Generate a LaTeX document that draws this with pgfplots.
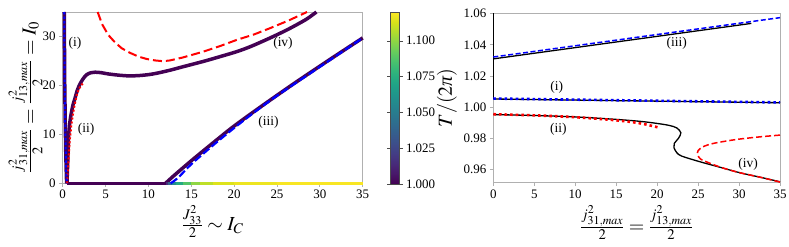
\documentclass[border=0pt]{standalone}
\usepackage{amsmath}
\usepackage{mathptmx}
\usepackage{fontspec}
\setmainfont{Liberation Serif}
\usepackage{pgfplots}
\pgfplotsset{compat=1.18}
\definecolor{vpurple}{RGB}{68,1,84}
\definecolor{framegray}{RGB}{176,176,176}
\pgfplotsset{
  common/.style={
    scale only axis, clip=false,
    axis line style={framegray, line width=0.9bp},
    tick style={framegray, line width=0.8bp},
    tick align=outside, major tick length=3.5bp,
    xtick pos=bottom, ytick pos=left,
    tick label style={font=\fontsize{13}{15}\selectfont},
    /pgf/number format/assume math mode=true,
    label style={font=\fontsize{20}{24}\selectfont},
  }
}
\begin{document}
\begin{tikzpicture}
\path[use as bounding box] (0,0) rectangle (789bp,247bp);
% ---------------- left panel ----------------
\begin{axis}[common,
  at={(62.7bp,63.7bp)}, anchor=south west,
  width=300bp, height=171.3bp,
  xmin=0, xmax=35, ymin=0, ymax=35,
  xtick={0,5,10,15,20,25,30,35}, ytick={0,10,20,30},
  colormap/viridis, point meta min=1, point meta max=1.12,
  colorbar,
  colorbar style={
    scale only axis,
    at={(parent axis.north east)}, anchor=north west, xshift=19bp,
    width=9.3bp, height=172bp,
    axis line style={black!70, line width=0.6bp},
    ytick={1,1.025,1.05,1.075,1.1},
    tick style={black!70}, tick align=outside, major tick length=3bp,
    yticklabel style={font=\fontsize{13}{15}\selectfont,
      /pgf/number format/.cd, fixed, fixed zerofill, precision=3, assume math mode=true},
    scaled y ticks=false,
  },
  xlabel={$\frac{J^2_{33}}{2}\sim I_C$},
  xlabel style={at={(axis description cs:0.5,-0.11)}, anchor=north},
  ylabel={$\frac{j^2_{31,max}}{2}=\frac{j^2_{13,max}}{2}=I_0$},
  ylabel style={at={(axis description cs:-0.056,0.5)}, anchor=south},
]
% red dashed (iv) asymptote
\addplot[red, line width=2bp, dash pattern=on 9bp off 4bp] coordinates {
 (4.08,35) (4.6,32.5) (5.32,30.3) (6.1,28.8) (6.88,27.6) (7.8,26.7) (8.82,25.9)
 (9.8,25.4) (10.8,25.1) (11.7,24.95) (12.5,25.1) (14,25.7) (16.4,26.9) (18.3,28.0)
 (20.3,29.3) (22.3,30.4) (24.2,31.7) (26.4,33.3) (28.5,35)};
% thick curve (i)
\addplot[vpurple, line width=3.5bp] coordinates {
 (0.18,35) (0.2,30) (0.24,20) (0.3,12) (0.36,6) (0.42,2) (0.46,0)};
% thick bottom (purple part)
\addplot[vpurple, line width=3.5bp] coordinates {(0.46,0) (12,0)};
% thick curve (ii)+(iv)
\addplot[vpurple, line width=3.5bp, smooth] coordinates {
 (0.5,0) (0.56,3) (0.62,6) (0.68,9.2) (0.8,12) (0.97,14) (1.2,16) (1.44,17.4)
 (1.7,19) (2.02,20.3) (2.4,21.4) (2.8,22.2) (3.3,22.6) (3.8,22.7) (4.5,22.6)
 (5.3,22.35) (6.5,22.1) (7.7,21.95) (8.8,22.0) (10,22.2) (11,22.5) (12.5,23.1)
 (14,23.8) (16.4,24.9) (18,25.7) (20.3,26.9) (22,28) (24.2,29.7) (26,31.2)
 (27.3,32.4) (28.5,33.6) (29.6,35)};
% thick curve (iii)
\addplot[vpurple, line width=3.5bp, smooth] coordinates {
 (12,0) (13,1.6) (15,4.6) (17.5,8.2) (20,11.7) (23.4,16) (27,20.4) (31,25.1) (35,29.7)};
% coloured bottom segment
\addplot[mesh, point meta=explicit, line width=3.5bp] coordinates {
 (12,0) [1.0] (12.3,0) [1.03] (12.7,0) [1.05] (13.2,0) [1.065] (14,0) [1.08]
 (15,0) [1.095] (16,0) [1.105] (17.5,0) [1.112] (20,0) [1.116] (25,0) [1.118] (35,0) [1.12]};
% red dotted (ii) approximation
\addplot[red, line width=2bp, dash pattern=on 2bp off 2bp] coordinates {
 (0.52,0) (0.58,2) (0.65,3.7) (0.75,6.5) (0.85,9.2) (1.0,11.8) (1.24,14.6)
 (1.45,16.5) (1.63,18) (1.9,19.3) (2.2,20.1) (2.4,20.5)};
% blue dotted (i) approximation
\addplot[blue, line width=2bp, dash pattern=on 2.5bp off 2bp] coordinates {
 (0.18,35) (0.2,30) (0.24,20) (0.3,12) (0.36,6) (0.42,2) (0.46,0)};
% blue dashed (iii) approximation
\addplot[blue, line width=2.2bp, dash pattern=on 8bp off 3bp, smooth] coordinates {
 (12.6,0) (13.5,1.2) (15,3.9) (17.5,7.7) (20,11.3) (22.5,14.7) (25,17.9) (30,23.8) (35,29.7)};
\node[font=\fontsize{13.5}{15}\selectfont] at (axis cs:1.43,28.6) {(i)};
\node[font=\fontsize{13.5}{15}\selectfont] at (axis cs:2.72,11) {(ii)};
\node[font=\fontsize{13.5}{15}\selectfont] at (axis cs:24,12.4) {(iii)};
\node[font=\fontsize{13.5}{15}\selectfont] at (axis cs:25.7,28.6) {(iv)};
\end{axis}
% ---------------- right panel ----------------
\begin{axis}[common,
  at={(493.3bp,64.3bp)}, anchor=south west,
  width=286.7bp, height=169.4bp,
  xmin=0, xmax=35, ymin=0.9514, ymax=1.0603,
  xtick={0,5,10,15,20,25,30,35}, ytick={0.96,0.98,1.00,1.02,1.04,1.06},
  yticklabel style={/pgf/number format/.cd, fixed, fixed zerofill, precision=2},
  scaled y ticks=false,
  xlabel={$\frac{j^2_{31,max}}{2}=\frac{j^2_{13,max}}{2}$},
  xlabel style={at={(axis description cs:0.5,-0.115)}, anchor=north},
  ylabel={$T/(2\text{\itshape π})$},
  ylabel style={at={(axis description cs:-0.115,0.5)}, anchor=south},
]
% black solid curves
\addplot[black, line width=1.3bp] coordinates {(0,1.0052) (0,1.0603)};
\addplot[black, line width=1.3bp] coordinates {(0,1.031) (31.5,1.0538)};
\addplot[black, line width=1.3bp] coordinates {(0,1.0052) (35,1.0028)};
\addplot[black, line width=1.3bp, smooth] coordinates {
 (0,0.9952) (5,0.9946) (10,0.9937) (15,0.9921) (18,0.9908) (20,0.9895) (21.5,0.9882)
 (22.4,0.9866) (22.9,0.9835) (22.6,0.9799) (22.1,0.9767) (22.05,0.9740) (22.4,0.9707)
 (23,0.9685) (25.2,0.9649) (27.7,0.9613) (30.1,0.9578) (32.6,0.9549) (35,0.9520)};
% blue dashed (iii)
\addplot[blue, line width=1.5bp, dash pattern=on 5bp off 2.5bp] coordinates {(0,1.0322) (35,1.0575)};
% blue dotted (i)
\addplot[blue, line width=2.6bp, dash pattern=on 2.6bp off 3bp] coordinates {(0,1.0055) (35,1.003)};
% red dotted (ii)
\addplot[red, line width=2.6bp, dash pattern=on 2.6bp off 3bp, smooth] coordinates {
 (0,0.9954) (5,0.9947) (10,0.9935) (15,0.9915) (18,0.9895) (20.3,0.9867)};
% red dashed (iv)
\addplot[red, line width=1.5bp, dash pattern=on 6bp off 3bp, smooth] coordinates {
 (35,0.9820) (32.6,0.9809) (29.7,0.9792) (26.9,0.9767) (25.6,0.9745) (25.0,0.9720)
 (24.95,0.9695) (25.3,0.9666) (26.5,0.9638) (28,0.9609) (30.1,0.9578) (32.6,0.9549) (35,0.9518)};
\node[font=\fontsize{13.5}{15}\selectfont] at (axis cs:22.4,1.0408) {(iii)};
\node[font=\fontsize{13.5}{15}\selectfont] at (axis cs:7.74,1.0126) {(i)};
\node[font=\fontsize{13.5}{15}\selectfont] at (axis cs:7.94,0.9856) {(ii)};
\node[font=\fontsize{13.5}{15}\selectfont] at (axis cs:31.1,0.9634) {(iv)};
\end{axis}
\end{tikzpicture}
\end{document}
